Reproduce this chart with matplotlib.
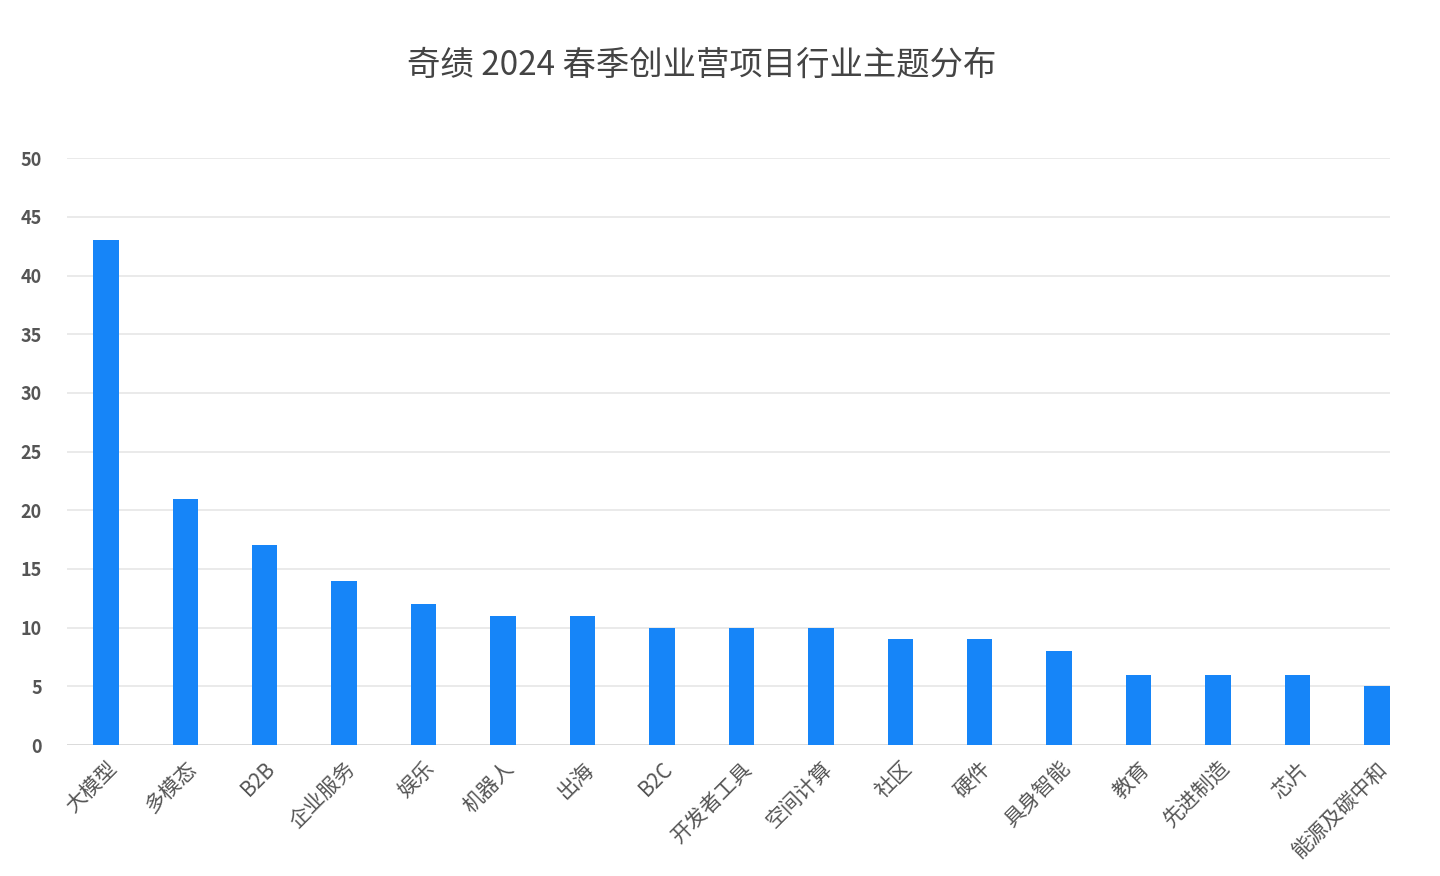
import matplotlib.pyplot as plt

plt.rcParams["font.family"] = ["Noto Sans CJK SC", "DejaVu Sans"]

categories = [
    "大模型", "多模态", "B2B", "企业服务", "娱乐", "机器人", "出海", "B2C",
    "开发者工具", "空间计算", "社区", "硬件", "具身智能", "教育", "先进制造",
    "芯片", "能源及碳中和",
]
counts = [43, 21, 17, 14, 12, 11, 11, 10, 10, 10, 9, 9, 8, 6, 6, 6, 5]
y_ticks = [0, 5, 10, 15, 20, 25, 30, 35, 40, 45, 50]

fig = plt.figure(figsize=(14.4, 8.76), dpi=100)
ax = fig.add_axes([0.0465, 0.1495, 0.9185, 0.670])

x = list(range(len(categories)))
ax.bar(x, counts, width=0.32, color="#1685F8", zorder=3)

ax.set_ylim(0, 50)
ax.set_yticks(y_ticks)
ax.set_xlim(-0.49, 16.16)
ax.grid(axis="y", color="#e6e6e6", linewidth=1.2, zorder=0)
ax.set_xticks(x)
ax.set_xticklabels(categories, rotation=45, ha="right", rotation_mode="anchor",
                   fontsize=15, color="#555555", fontweight="medium")
ax.tick_params(axis="y", labelsize=13, colors="#555555", length=0, pad=18)
ax.tick_params(axis="x", length=0, pad=9)
for lbl in ax.get_yticklabels():
    lbl.set_fontweight("bold")
for side in ["top", "right", "left", "bottom"]:
    ax.spines[side].set_visible(False)
ax.axhline(0, color="#d9d9d9", linewidth=1.2, zorder=2)

fig.suptitle("奇绩 2024 春季创业营项目行业主题分布", x=0.487, y=0.945,
             fontsize=24, color="#444444", fontweight="medium")

fig.savefig("out.png", dpi=100)
